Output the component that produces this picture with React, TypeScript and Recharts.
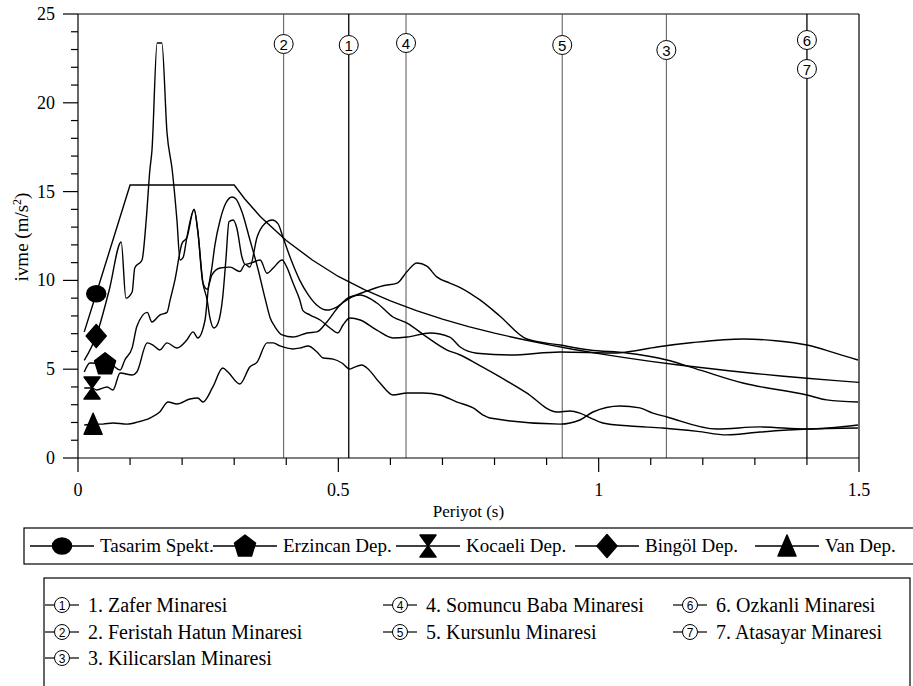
import React from "react";
import { ComposedChart, Line, XAxis, YAxis, ReferenceLine } from "recharts";

type Pt = [number, number];

// Period (s) / acceleration (m/s2) pairs
const tasarimSpekt: Pt[] = [
  [0.012, 7.1], [0.035, 9.25], [0.1, 15.37], [0.3, 15.37], [0.32, 14.6], [0.35, 13.6],
  [0.4, 12.25], [0.45, 11.15], [0.5, 10.22], [0.55, 9.48], [0.6, 8.85], [0.65, 8.3],
  [0.7, 7.82], [0.75, 7.4], [0.8, 7.03], [0.85, 6.7], [0.9, 6.4], [0.95, 6.12], [1.0, 5.88],
  [1.05, 5.65], [1.1, 5.44], [1.15, 5.25], [1.2, 5.08], [1.25, 4.91], [1.3, 4.76],
  [1.35, 4.62], [1.4, 4.49], [1.45, 4.37], [1.5, 4.26],
];

const erzincanDep: Pt[] = [
  [0.012, 4.84], [0.023, 5.35], [0.052, 5.3], [0.065, 5.24], [0.081, 4.95], [0.09, 5.52],
  [0.104, 6.2], [0.113, 7.4], [0.133, 8.2], [0.142, 7.66], [0.157, 8.05], [0.171, 8.2],
  [0.177, 8.9], [0.186, 10.0], [0.2, 12.1], [0.209, 12.4], [0.223, 14.0], [0.23, 12.8],
  [0.24, 9.85], [0.248, 8.9], [0.253, 7.94], [0.261, 7.32], [0.269, 7.6], [0.278, 9.07],
  [0.284, 11.15], [0.29, 13.3], [0.298, 13.4], [0.305, 12.95], [0.315, 11.3], [0.321, 10.9],
  [0.334, 11.0], [0.35, 11.15], [0.363, 10.4], [0.375, 10.7], [0.392, 11.15], [0.401, 10.75],
  [0.413, 9.85], [0.426, 8.9], [0.432, 8.3], [0.446, 8.05], [0.465, 7.77], [0.484, 7.32],
  [0.499, 7.04], [0.509, 7.49], [0.522, 7.88], [0.542, 7.77], [0.574, 7.2], [0.605, 6.76],
  [0.632, 6.81], [0.676, 7.04], [0.714, 6.81], [0.734, 6.25], [0.766, 5.9], [0.83, 5.8],
  [0.926, 5.97], [1.035, 5.91], [1.054, 5.97], [1.112, 6.25], [1.181, 6.5], [1.277, 6.7],
  [1.34, 6.6], [1.4, 6.36], [1.45, 5.95], [1.498, 5.52],
];

const kocaeliDep: Pt[] = [
  [0.012, 3.94], [0.027, 3.94], [0.036, 3.83], [0.056, 4.0], [0.067, 3.83], [0.081, 4.79],
  [0.104, 4.67], [0.113, 4.84], [0.133, 6.48], [0.144, 6.36], [0.157, 6.08], [0.171, 6.48],
  [0.19, 6.19], [0.209, 6.64], [0.221, 7.1], [0.23, 6.76], [0.244, 7.77], [0.25, 9.46],
  [0.257, 10.7], [0.263, 12.0], [0.273, 13.4], [0.284, 14.36], [0.296, 14.7], [0.303, 14.6],
  [0.315, 13.85], [0.33, 12.3], [0.346, 10.6], [0.36, 8.9], [0.369, 7.9], [0.378, 7.4],
  [0.392, 6.93], [0.413, 6.81], [0.44, 7.04], [0.459, 7.1], [0.478, 7.66], [0.503, 8.6],
  [0.522, 9.0], [0.555, 9.4], [0.586, 9.7], [0.613, 9.85], [0.632, 10.5], [0.651, 10.98],
  [0.67, 10.8], [0.689, 10.2], [0.714, 9.85], [0.734, 9.6], [0.772, 8.9], [0.81, 8.0],
  [0.862, 6.7], [0.926, 6.36], [0.983, 6.08], [1.054, 5.91], [1.131, 5.52], [1.195, 4.95],
  [1.277, 4.22], [1.4, 3.55], [1.438, 3.27], [1.498, 3.15],
];

const bingolDep: Pt[] = [
  [0.012, 5.5], [0.035, 6.87], [0.06, 9.46], [0.083, 12.16], [0.092, 9.0], [0.104, 9.35],
  [0.109, 10.7], [0.123, 11.15], [0.131, 13.4], [0.138, 16.2], [0.142, 17.3], [0.152, 23.37],
  [0.161, 23.37], [0.171, 18.3], [0.181, 16.2], [0.19, 13.4], [0.196, 11.15], [0.202, 11.3],
  [0.209, 12.4], [0.223, 14.0], [0.23, 12.8], [0.24, 9.85], [0.248, 9.5], [0.257, 10.3],
  [0.273, 10.7], [0.292, 10.75], [0.311, 10.5], [0.321, 10.9], [0.33, 10.75], [0.344, 12.44],
  [0.359, 13.2], [0.373, 13.4], [0.384, 13.2], [0.394, 12.4], [0.41, 11.1], [0.426, 10.0],
  [0.442, 9.2], [0.459, 8.6], [0.478, 8.33], [0.497, 8.5], [0.522, 9.07], [0.542, 9.18],
  [0.574, 8.73], [0.605, 7.94], [0.632, 7.6], [0.67, 6.81], [0.709, 6.08], [0.734, 5.8],
  [0.766, 5.3], [0.797, 4.79], [0.86, 3.7], [0.92, 2.59], [0.945, 2.65], [0.964, 2.53],
  [0.985, 2.25], [1.008, 1.97], [1.06, 1.8], [1.123, 1.69], [1.19, 1.5], [1.246, 1.3],
  [1.31, 1.46], [1.4, 1.63], [1.498, 1.69],
];

const vanDep: Pt[] = [
  [0.012, 1.86], [0.029, 1.9], [0.048, 1.91], [0.067, 1.97], [0.094, 1.91], [0.115, 2.03],
  [0.138, 2.25], [0.157, 2.59], [0.173, 3.15], [0.19, 3.04], [0.215, 3.32], [0.23, 3.38],
  [0.24, 3.15], [0.259, 4.0], [0.278, 5.07], [0.288, 4.84], [0.311, 4.17], [0.33, 5.12],
  [0.344, 5.4], [0.363, 6.48], [0.375, 6.48], [0.388, 6.31], [0.413, 6.14], [0.426, 6.19],
  [0.442, 6.31], [0.459, 5.97], [0.471, 5.63], [0.49, 5.57], [0.507, 5.35], [0.522, 5.01],
  [0.528, 5.07], [0.545, 5.24], [0.555, 5.07], [0.58, 4.22], [0.605, 3.55], [0.632, 3.66],
  [0.663, 3.66], [0.695, 3.55], [0.728, 3.15], [0.759, 2.82], [0.778, 2.42], [0.791, 2.25],
  [0.926, 1.91], [0.964, 2.14], [0.989, 2.59], [1.041, 2.93], [1.079, 2.82], [1.104, 2.53],
  [1.131, 2.31], [1.227, 1.63], [1.31, 1.75], [1.4, 1.63], [1.498, 1.86],
];

const seriesNames = ["Tasarim Spekt.", "Erzincan Dep.", "Kocaeli Dep.", "Bingöl Dep.", "Van Dep."];
const seriesData = [tasarimSpekt, erzincanDep, kocaeliDep, bingolDep, vanDep];
const seriesMarkerPeriod = [0.035, 0.052, 0.027, 0.035, 0.029];

const minaretNo = ["1", "2", "3", "4", "5", "6", "7"];
const minaretNames = [
  "1. Zafer Minaresi",
  "2. Feristah Hatun Minaresi",
  "3. Kilicarslan Minaresi",
  "4. Somuncu Baba Minaresi",
  "5. Kursunlu Minaresi",
  "6. Ozkanli Minaresi",
  "7. Atasayar Minaresi",
];
const minaretPeriod = [0.52, 0.395, 1.13, 0.63, 0.93, 1.4, 1.4];

const xTicks = [0, 0.1, 0.2, 0.3, 0.4, 0.5, 0.6, 0.7, 0.8, 0.9, 1, 1.1, 1.2, 1.3, 1.4, 1.5];
const xMajor = [0, 0.5, 1, 1.5];
const yTicks = [0, 1, 2, 3, 4, 5, 6, 7, 8, 9, 10, 11, 12, 13, 14, 15, 16, 17, 18, 19, 20, 21, 22, 23, 24, 25];
const yMajor = [0, 5, 10, 15, 20, 25];

// ---------- styling / layout ----------
const SERIF = "'Liberation Serif', 'Times New Roman', serif";
const SANS = "'Liberation Sans', Arial, sans-serif";
const markerKinds = ["circle", "pentagon", "hourglass", "diamond", "triangle"];
const labelOffsets: Record<string, number> = { "1": 31, "2": 30, "3": 36, "4": 29, "5": 31, "6": 26, "7": 55 };
const darkLines: Record<string, boolean> = { "1": true, "6": true, "7": true };

function pts(list: number[][], cx: number, cy: number) {
  return list.map((p) => `${cx + p[0]},${cy + p[1]}`).join(" ");
}

function Marker({ kind, cx, cy }: { kind: string; cx: number; cy: number }) {
  const common = { fill: "#000", stroke: "#000", strokeWidth: 1.5, strokeLinejoin: "round" as const };
  if (kind === "circle") return <ellipse cx={cx} cy={cy} rx={9.5} ry={8} {...common} />;
  if (kind === "pentagon")
    return <polygon points={pts([[0, -11], [10.5, -3], [6.5, 10], [-6.5, 10], [-10.5, -3]], cx, cy)} {...common} />;
  if (kind === "hourglass")
    return (
      <g>
        <polygon points={pts([[-8, -11], [8, -11], [0, 0]], cx, cy)} {...common} />
        <polygon points={pts([[-8, 11], [8, 11], [0, 0]], cx, cy)} {...common} />
      </g>
    );
  if (kind === "diamond")
    return <polygon points={pts([[0, -11.5], [10, 0], [0, 11.5], [-10, 0]], cx, cy)} {...common} />;
  return <polygon points={pts([[0, -11], [9, 10], [-9, 10]], cx, cy)} {...common} />;
}

const makeDot = (kind: string, mx: number) => (props: any) => {
  const { cx, cy, payload, index } = props;
  if (!payload || payload.x !== mx || cx == null || cy == null) return <g key={`d${index}`} />;
  return (
    <g key={`d${index}`}>
      <Marker kind={kind} cx={cx} cy={cy} />
    </g>
  );
};

const XTick = (props: any) => {
  const { x, y, payload } = props;
  const v = payload.value;
  const major = xMajor.some((m) => Math.abs(m - v) < 1e-6);
  return (
    <g>
      <line x1={x} x2={x} y1={y} y2={y + (major ? 14 : 7)} stroke="#000" strokeWidth={1.2} />
      {major && (
        <text x={x} y={y + 38} textAnchor="middle" style={{ fontFamily: SERIF, fontSize: 18 }} fill="#000">
          {String(v)}
        </text>
      )}
    </g>
  );
};

const YTick = (props: any) => {
  const { x, y, payload } = props;
  const v = payload.value;
  const major = yMajor.includes(v);
  return (
    <g>
      <line x1={x} x2={x - (major ? 15 : 7)} y1={y} y2={y} stroke="#000" strokeWidth={1.2} />
      {major && (
        <text x={x - 23} y={y + 6} textAnchor="end" style={{ fontFamily: SERIF, fontSize: 18 }} fill="#000">
          {String(v)}
        </text>
      )}
    </g>
  );
};

const xLabel = (props: any) => {
  const vb = props.viewBox || { x: 78, y: 458, width: 781 };
  return (
    <text x={vb.x + vb.width / 2} y={vb.y + 59} textAnchor="middle" style={{ fontFamily: SERIF, fontSize: 17 }} fill="#000">
      Periyot (s)
    </text>
  );
};

const yLabel = (props: any) => {
  const vb = props.viewBox || { x: 0, y: 14, height: 444 };
  const cx = vb.x + 28;
  const cy = vb.y + 223;
  return (
    <text
      transform={`rotate(-90 ${cx} ${cy})`}
      x={cx}
      y={cy}
      textAnchor="middle"
      style={{ fontFamily: SERIF, fontSize: 19 }}
      fill="#000"
    >
      ivme (m/s
      <tspan dy={-7} style={{ fontSize: 12 }}>
        2
      </tspan>
      <tspan dy={7}>)</tspan>
    </text>
  );
};

const circleLabel = (nums: string[]) => (props: any) => {
  const vb = props.viewBox || {};
  const x = vb.x;
  const top = vb.y;
  return (
    <g>
      {nums.map((n) => (
        <g key={n}>
          <circle cx={x} cy={top + labelOffsets[n]} r={9.5} fill="#fff" stroke="#000" strokeWidth={1} />
          <text x={x} y={top + labelOffsets[n] + 6} textAnchor="middle" style={{ fontFamily: SANS, fontSize: 15 }} fill="#000">
            {n}
          </text>
        </g>
      ))}
    </g>
  );
};

// group minarets sharing the same period
const minaretGroups: { period: number; nums: string[] }[] = [];
minaretPeriod.forEach((p, i) => {
  const g = minaretGroups.find((m) => m.period === p);
  if (g) g.nums.push(minaretNo[i]);
  else minaretGroups.push({ period: p, nums: [minaretNo[i]] });
});

// legend layout
const leg1TextX = [100, 283, 466, 645, 825];
const leg1Y = 546;
const leg2Cols = [62, 400, 690];
const leg2Rows = [605, 632, 658];
const leg2Pos = [
  [0, 0], [0, 1], [0, 2], [1, 0], [1, 1], [2, 0], [2, 1],
];

export default function App() {
  return (
    <div style={{ position: "absolute", left: 0, top: 0, width: 913, height: 686, background: "#fff" }}>
      <ComposedChart width={913} height={686} margin={{ top: 14, right: 54, bottom: 0, left: 0 }}>
        <XAxis
          type="number"
          dataKey="x"
          domain={[0, 1.5]}
          ticks={xTicks}
          interval={0}
          allowDataOverflow
          height={228}
          tickSize={0}
          tickMargin={0}
          tickLine={false}
          tick={(p: any) => <XTick {...p} />}
          axisLine={{ stroke: "#000", strokeWidth: 1.2 }}
          label={xLabel}
        />
        <YAxis
          type="number"
          domain={[0, 25]}
          ticks={yTicks}
          interval={0}
          allowDataOverflow
          width={78}
          tickSize={0}
          tickMargin={0}
          tickLine={false}
          tick={(p: any) => <YTick {...p} />}
          axisLine={{ stroke: "#000", strokeWidth: 1.2 }}
          label={yLabel}
        />
        <ReferenceLine y={25} stroke="#000" strokeWidth={1.2} ifOverflow="visible" />
        <ReferenceLine x={1.5} stroke="#000" strokeWidth={1.2} ifOverflow="visible" />
        {minaretGroups.map((g) => (
          <ReferenceLine
            key={`m${g.period}`}
            x={g.period}
            stroke={g.nums.some((n) => darkLines[n]) ? "#000" : "#555"}
            strokeWidth={g.nums.some((n) => darkLines[n]) ? 1.3 : 1}
            ifOverflow="visible"
            label={circleLabel(g.nums)}
          />
        ))}
        {seriesData.map((d, i) => (
          <Line
            key={seriesNames[i]}
            name={seriesNames[i]}
            data={d.map(([x, y]) => ({ x, y }))}
            dataKey="y"
            type={i === 0 ? "linear" : "monotone"}
            stroke="#000"
            strokeWidth={1.4}
            dot={makeDot(markerKinds[i], seriesMarkerPeriod[i])}
            activeDot={false}
            isAnimationActive={false}
            legendType="none"
          />
        ))}
      </ComposedChart>
      <svg width={913} height={686} style={{ position: "absolute", left: 0, top: 0, pointerEvents: "none" }}>
        <rect x={24} y={528} width={920} height={36} fill="none" stroke="#000" strokeWidth={1.2} />
        {seriesNames.map((n, i) => {
          const tx = leg1TextX[i];
          return (
            <g key={n}>
              <line x1={tx - 70} x2={tx - 6} y1={leg1Y} y2={leg1Y} stroke="#000" strokeWidth={1.4} />
              <Marker kind={markerKinds[i]} cx={tx - 38} cy={leg1Y} />
              <text x={tx} y={leg1Y + 6} style={{ fontFamily: SERIF, fontSize: 19 }} fill="#000">
                {n}
              </text>
            </g>
          );
        })}
        <rect x={44} y={578} width={866} height={130} fill="none" stroke="#000" strokeWidth={1.2} />
        {minaretNames.map((n, i) => {
          const cx = leg2Cols[leg2Pos[i][0]];
          const cy = leg2Rows[leg2Pos[i][1]];
          return (
            <g key={n}>
              <line x1={cx - 17} x2={cx - 7} y1={cy} y2={cy} stroke="#000" strokeWidth={1.2} />
              <line x1={cx + 7} x2={cx + 17} y1={cy} y2={cy} stroke="#000" strokeWidth={1.2} />
              <circle cx={cx} cy={cy} r={7.5} fill="#fff" stroke="#000" strokeWidth={1} />
              <text x={cx} y={cy + 5} textAnchor="middle" style={{ fontFamily: SANS, fontSize: 12 }} fill="#000">
                {minaretNo[i]}
              </text>
              <text x={cx + 26} y={cy + 7} style={{ fontFamily: SERIF, fontSize: 20 }} fill="#000">
                {n}
              </text>
            </g>
          );
        })}
      </svg>
    </div>
  );
}
